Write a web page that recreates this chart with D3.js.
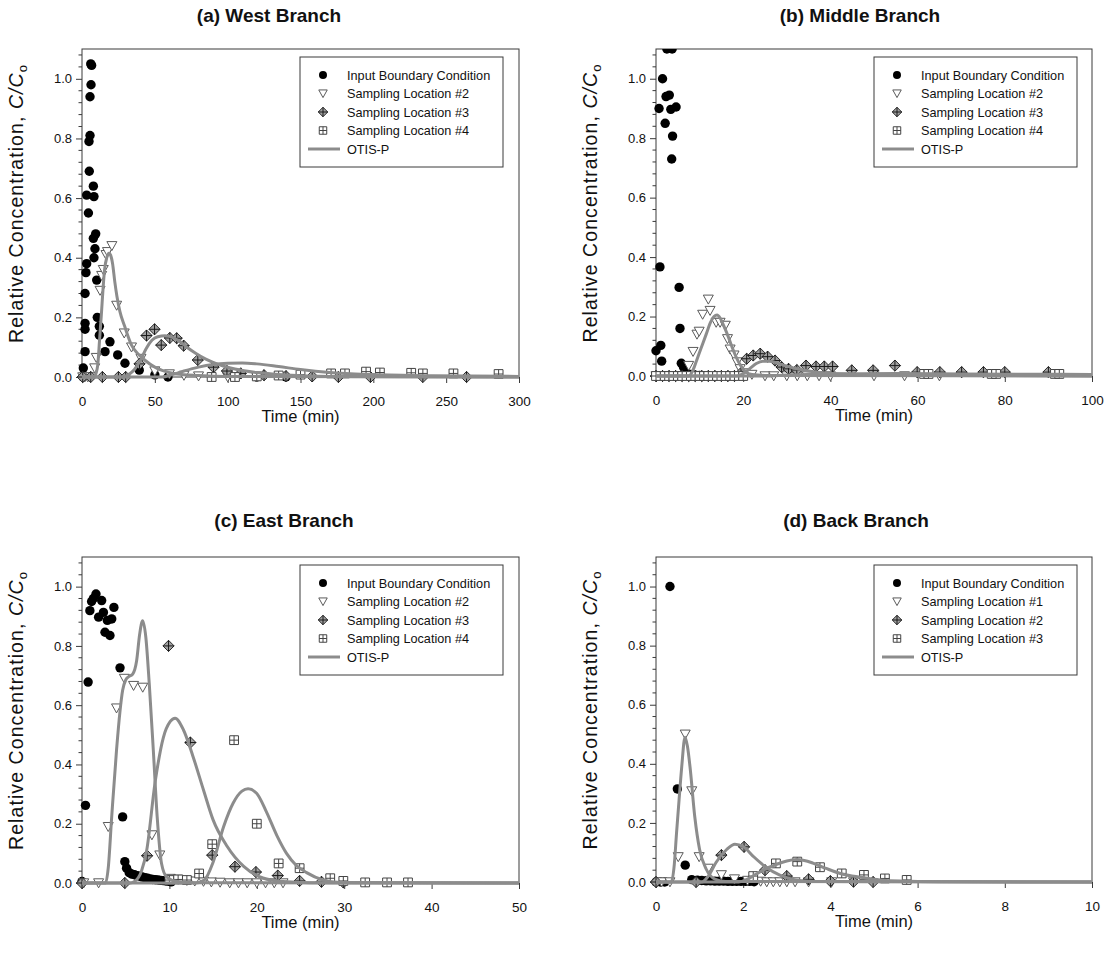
<!DOCTYPE html>
<html><head><meta charset="utf-8">
<script src="https://cdn.jsdelivr.net/npm/d3@7"></script>
<style>
body{margin:0;background:#fff}
svg{display:block}
text{font-family:Arial,"Liberation Sans",sans-serif;fill:#111}
</style>
</head><body>
<svg id="chart" width="1113" height="959"></svg>
<script>
// ---------------- DATA ----------------
const panelTitles = ["(a) West Branch", "(b) Middle Branch", "(c) East Branch", "(d) Back Branch"];
const xDomains = [[0, 300], [0, 100], [0, 50], [0, 10]];
const xTicksA = [0, 50, 100, 150, 200, 250, 300];
const xTicksB = [0, 20, 40, 60, 80, 100];
const xTicksC = [0, 10, 20, 30, 40, 50];
const xTicksD = [0, 2, 4, 6, 8, 10];
const yTicks = [0, 0.2, 0.4, 0.6, 0.8, 1.0];
const legendLabelsABC = ["Input Boundary Condition", "Sampling Location #2", "Sampling Location #3", "Sampling Location #4", "OTIS-P"];
const legendLabelsD = ["Input Boundary Condition", "Sampling Location #1", "Sampling Location #2", "Sampling Location #3", "OTIS-P"];

// (a) West Branch
const westInput = [[0.7,0],[0.9,0.03],[2.1,0.085],[2.1,0.16],[2.1,0.18],[2.1,0.28],[2.7,0.35],[3.2,0.38],[3.2,0.61],[4.4,0.55],[4.8,0.79],[5.0,0.69],[5.5,0.81],[5.5,0.94],[6.0,1.05],[6.2,0.98],[6.6,1.045],[7.8,0.64],[7.8,0.465],[8.2,0.605],[8.2,0.40],[8.9,0.43],[9.4,0.48],[10.1,0.325],[10.5,0.20],[11.9,0.17],[11.9,0.14],[15.8,0.085],[19.2,0.118],[24.5,0.074],[29.5,0.046],[39.3,0.023],[50,0.007],[59,0.0],[120,0.0],[140,0.0]];
const westLoc2 = [[0.5,0],[2,0],[4,0],[6,0],[8.7,0.03],[9.8,0.065],[12.4,0.29],[13.5,0.34],[14.6,0.36],[16.5,0.41],[17.5,0.42],[20.5,0.44],[23.8,0.24],[29,0.147],[34,0.1],[40.5,0.062],[50,0.02],[60,0.01],[70,0.005],[80,0.003],[100,0],[120,0]];
const westLoc3 = [[0.5,0],[6,0],[14,0],[25,0],[30,0],[39.5,0.044],[44.3,0.139],[49.8,0.16],[54.4,0.107],[60.3,0.131],[65,0.13],[69.8,0.105],[79.5,0.057],[90.3,0.033],[99.5,0.02],[109,0.012],[125,0.006],[140,0.003],[158,0.002],[176,0],[198,0],[234,0],[264,0]];
const westLoc4 = [[89,0],[105,0],[120,0.002],[135,0.005],[150,0.008],[171,0.012],[180.5,0.012],[195,0.018],[204.5,0.015],[226,0.014],[234,0.012],[255,0.012],[286,0.01]];
const westModel2 = [[0,0],[8,0],[9.5,0.01],[11,0.05],[12,0.12],[13.3,0.21],[14.5,0.30],[15.5,0.36],[17,0.40],[18.5,0.415],[19.5,0.41],[21,0.38],[22.5,0.32],[24,0.27],[26,0.22],[29.3,0.17],[34,0.107],[38,0.08],[43,0.057],[50,0.033],[55,0.022],[65,0.01],[80,0.005],[100,0.002],[300,0]];
const westModel3 = [[0,0],[28,0],[32,0.008],[36,0.025],[40,0.055],[44,0.095],[48,0.123],[52,0.135],[57,0.138],[62,0.133],[67,0.12],[72,0.1],[78,0.08],[85,0.06],[95,0.04],[105,0.027],[120,0.015],[140,0.007],[170,0.002],[300,0]];
const westModel4 = [[0,0],[55,0],[62,0.008],[70,0.02],[80,0.033],[90,0.042],[100,0.046],[110,0.047],[120,0.044],[135,0.035],[150,0.025],[170,0.015],[200,0.008],[240,0.004],[300,0.002]];

// (b) Middle Branch
const middleInput = [[0,0.085],[0.7,0.9],[0.9,0.367],[1.1,0.103],[1.3,0.05],[1.5,1.0],[2.1,0.85],[2.3,0.94],[2.5,1.1],[3.05,0.945],[3.4,0.897],[3.6,0.73],[3.8,0.807],[3.7,1.1],[4.6,0.905],[5.3,0.298],[5.5,0.16],[5.8,0.043],[6.3,0.03],[7,0.01],[8,0.005],[9,0.003],[10,0.002],[11,0],[12,0]];
const middleLoc2 = [[0,0],[1,0],[2,0],[3,0],[4,0],[5,0],[6,0],[7.5,0.035],[8.5,0.082],[9.4,0.14],[9.9,0.15],[10.7,0.207],[12,0.258],[12.4,0.22],[13.8,0.18],[14.7,0.18],[15.9,0.17],[16.4,0.125],[17,0.09],[17.9,0.07],[18.6,0.047],[19.3,0.024],[20.5,0.01],[22,0.005],[25,0],[27,0],[30,0],[32.4,0],[34.7,0],[37.4,0],[40,0],[50,0],[57,0],[65,0]];
const middleLoc3 = [[0,0],[1.5,0],[3,0],[4.5,0],[6,0],[7.5,0],[9,0],[10.5,0],[12,0],[13.5,0],[15,0],[16.5,0],[18,0],[19.5,0.01],[20.8,0.058],[22.3,0.069],[23.9,0.075],[25.6,0.065],[27.3,0.052],[28.8,0.03],[30.4,0.024],[32.3,0.02],[34.4,0.035],[36.7,0.032],[38.6,0.032],[40.5,0.032],[44.9,0.019],[49.8,0.019],[54.8,0.035],[59.9,0.013],[65.1,0.013],[70.1,0.013],[75.1,0.013],[80,0.013],[90,0.013]];
const middleLoc4 = [[0,0],[2,0],[4,0],[6,0],[8,0],[10,0],[12,0],[14,0],[16,0],[18,0],[20,0],[61.5,0.007],[62.5,0.007],[77,0.007],[78,0.007],[91.5,0.007],[92.5,0.007]];
const middleModel2 = [[0,0],[7.5,0],[8.5,0.02],[9.5,0.06],[10.5,0.1],[11.5,0.14],[12.5,0.18],[13.3,0.2],[14,0.205],[14.7,0.195],[15.5,0.17],[16.5,0.135],[17.5,0.095],[18.5,0.06],[19.5,0.033],[20.5,0.015],[22,0.005],[25,0.002],[100,0]];
const middleModel3 = [[0,0],[18.5,0],[20,0.008],[21.5,0.025],[23,0.042],[24.5,0.05],[26,0.05],[28,0.043],[30,0.033],[32,0.025],[35,0.017],[40,0.009],[50,0.004],[60,0.002],[100,0]];
const middleModel4 = [[0,0],[25,0],[30,0.003],[40,0.007],[55,0.008],[70,0.007],[85,0.006],[100,0.005]];

// (c) East Branch
const eastInput = [[0,0.005],[0.4,0.262],[0.7,0.678],[0.9,0.919],[1.1,0.95],[1.3,0.96],[1.6,0.975],[1.9,0.897],[2.25,0.953],[2.45,0.913],[2.63,0.846],[2.9,0.886],[3.2,0.835],[3.4,0.891],[3.65,0.93],[4.35,0.726],[4.65,0.223],[4.9,0.072],[5.1,0.05],[5.4,0.035],[5.7,0.03],[6.0,0.028],[6.3,0.025],[6.6,0.023],[6.9,0.02],[7.2,0.018],[7.5,0.016],[7.8,0.014],[8.1,0.012],[8.4,0.011],[8.7,0.01],[9.0,0.009],[9.3,0.008],[9.6,0.007],[9.9,0.006],[10.2,0.004]];
const eastLoc2 = [[0.2,0],[1.9,0],[3.0,0.19],[3.95,0.59],[4.85,0.69],[5.9,0.666],[6.95,0.66],[8.0,0.162],[8.9,0.094],[10.1,0.015],[11,0.012],[12,0.008],[12.9,0.006],[13.9,0.005],[14.8,0.003],[15.8,0.002],[16.9,0],[17.9,0],[18.9,0],[20,0],[21,0],[22,0],[23,0]];
const eastLoc3 = [[0,0],[4.9,0],[7.45,0.092],[9.9,0.80],[12.4,0.474],[14.9,0.094],[17.5,0.055],[19.9,0.037],[22.4,0.025],[24.9,0.007],[27.4,0.004],[29.9,0.002]];
const eastLoc4 = [[10,0.01],[11,0.012],[12,0.01],[13.4,0.032],[14.9,0.131],[17.4,0.482],[20,0.2],[22.5,0.066],[24.9,0.05],[28.4,0.016],[29.9,0.007],[32.4,0.002],[34.9,0.002],[37.3,0.002]];
const eastModel2 = [[0,0],[2.7,0],[3.0,0.05],[3.4,0.224],[3.95,0.448],[4.35,0.58],[4.65,0.65],[5.0,0.685],[5.4,0.697],[5.8,0.705],[6.25,0.75],[6.6,0.84],[6.94,0.885],[7.3,0.83],[7.7,0.67],[8.16,0.448],[8.6,0.224],[9.1,0.066],[9.7,0.02],[10.9,0.005],[13,0.001],[50,0]];
const eastModel3 = [[0,0],[5.5,0],[6.0,0.005],[6.8,0.04],[7.4,0.11],[8.35,0.337],[9.3,0.49],[10.1,0.545],[10.65,0.556],[11.6,0.517],[12.7,0.427],[13.9,0.314],[15,0.213],[16.6,0.124],[18.5,0.056],[20.7,0.017],[23,0.005],[26,0.001],[50,0]];
const eastModel4 = [[0,0],[13,0],[14,0.01],[15,0.07],[16.2,0.19],[17.3,0.27],[18.3,0.31],[19,0.318],[20,0.302],[21.1,0.24],[22.3,0.16],[23.4,0.1],[24.5,0.06],[25.7,0.035],[27.6,0.01],[29.5,0.002],[50,0]];

// (d) Back Branch
const backInput = [[0,0],[0.1,0],[0.2,0],[0.32,1.0],[0.49,0.315],[0.67,0.057],[0.82,0.008],[0.95,0.006],[1.05,0.005],[1.15,0.004],[1.25,0.004],[1.35,0.003],[1.45,0.003],[1.55,0.003],[1.65,0.002],[1.75,0.002],[1.85,0.002],[1.95,0.002],[2.05,0.002],[2.15,0.002],[2.25,0.001]];
const backLoc1 = [[0.13,0],[0.32,0],[0.51,0.085],[0.67,0.5],[0.82,0.308],[0.99,0.085],[1.2,0.046],[1.5,0.024],[1.8,0.01],[2.1,0.005],[2.4,0.002],[2.54,0],[2.69,0],[2.84,0],[3.0,0],[3.19,0],[3.5,0],[4.03,0],[4.53,0]];
const backLoc2 = [[0,0],[0.92,0],[1.5,0.091],[2.02,0.119],[2.5,0.04],[3.0,0.02],[3.5,0.009],[4.0,0.003],[4.53,0.001],[4.98,0]];
const backLoc3 = [[2.23,0.02],[2.75,0.063],[3.24,0.069],[3.76,0.05],[4.26,0.029],[4.77,0.024],[5.25,0.012],[5.75,0.007]];
const backModel1 = [[0,0],[0.35,0],[0.42,0.06],[0.47,0.164],[0.53,0.28],[0.59,0.39],[0.665,0.49],[0.72,0.46],[0.78,0.39],[0.89,0.22],[1.0,0.11],[1.15,0.044],[1.35,0.01],[1.6,0.002],[10,0]];
const backModel2 = [[0,0],[1.05,0],[1.2,0.02],[1.38,0.067],[1.62,0.11],[1.81,0.128],[2.0,0.12],[2.23,0.087],[2.54,0.048],[2.84,0.023],[3.2,0.007],[3.6,0.002],[10,0]];
const backModel3 = [[0,0],[1.9,0],[2.1,0.01],[2.3,0.027],[2.46,0.04],[2.77,0.06],[3.0,0.071],[3.22,0.076],[3.4,0.073],[3.6,0.064],[3.9,0.046],[4.29,0.026],[4.7,0.016],[5.14,0.007],[5.6,0.003],[6.5,0.001],[10,0]];

// ---------------- LAYOUT / STYLE ----------------
const layout = [
  {left:82,  right:519,  top:49,  bottom:377, titleX:269, titleY:22},
  {left:656, right:1092, top:49,  bottom:376, titleX:860, titleY:22},
  {left:82,  right:519,  top:557, bottom:883, titleX:284, titleY:527},
  {left:656, right:1092, top:557, bottom:882, titleX:856, titleY:527}
];
const panels = [
  {title:panelTitles[0], xd:xDomains[0], xt:xTicksA, leg:legendLabelsABC, input:westInput, s1:westLoc2, s2:westLoc3, s3:westLoc4, models:[westModel2,westModel3,westModel4]},
  {title:panelTitles[1], xd:xDomains[1], xt:xTicksB, leg:legendLabelsABC, input:middleInput, s1:middleLoc2, s2:middleLoc3, s3:middleLoc4, models:[middleModel2,middleModel3,middleModel4]},
  {title:panelTitles[2], xd:xDomains[2], xt:xTicksC, leg:legendLabelsABC, input:eastInput, s1:eastLoc2, s2:eastLoc3, s3:eastLoc4, models:[eastModel2,eastModel3,eastModel4]},
  {title:panelTitles[3], xd:xDomains[3], xt:xTicksD, leg:legendLabelsD, input:backInput, s1:backLoc1, s2:backLoc2, s3:backLoc3, models:[backModel1,backModel2,backModel3]}
];

const LINE_COLOR = "#8c8c8c";
const FRAME_COLOR = "#3a3a3a";

function sym(kind, s) {
  s = s || 1;
  if (kind === "tri") {
    return `M${-5*s},${-4.2*s}L${5*s},${-4.2*s}L0,${4.8*s}Z`;
  }
  if (kind === "dia") {
    const h = 5.6*s;
    return `M0,${-h}L${h},0L0,${h}L${-h},0Z`;
  }
  if (kind === "sq") {
    const h = 4.4*s;
    return `M${-h},${-h}H${h}V${h}H${-h}Z`;
  }
}
function cross(kind, s) {
  s = s || 1;
  const h = (kind === "dia" ? 5.6 : 4.4)*s;
  return `M0,${-h}V${h}M${-h},0H${h}`;
}

function drawMarker(g, kind, cx, cy, s) {
  s = s || 1;
  const m = g.append("g").attr("transform", `translate(${cx},${cy})`);
  if (kind === "circ") {
    m.append("circle").attr("r", 4.7*s).attr("fill", "#000");
  } else if (kind === "tri") {
    m.append("path").attr("d", sym("tri", s)).attr("fill", "#fff").attr("stroke", "#5a5a5a").attr("stroke-width", 1);
  } else if (kind === "dia") {
    m.append("path").attr("d", sym("dia", s)).attr("fill", "#a0a0a0").attr("stroke", "#2a2a2a").attr("stroke-width", 1);
    m.append("path").attr("d", cross("dia", s)).attr("stroke", "#1a1a1a").attr("stroke-width", 1).attr("fill", "none");
  } else if (kind === "sq") {
    m.append("path").attr("d", sym("sq", s)).attr("fill", "#fff").attr("stroke", "#444").attr("stroke-width", 1);
    m.append("path").attr("d", cross("sq", s)).attr("stroke", "#444").attr("stroke-width", 1).attr("fill", "none");
  }
}

const svg = d3.select("#chart");
svg.append("rect").attr("width", 1113).attr("height", 959).attr("fill", "#fff");

panels.forEach((p, i) => {
  const L = layout[i];
  const g = svg.append("g");
  const x = d3.scaleLinear().domain(p.xd).range([L.left, L.right]);
  const y = d3.scaleLinear().domain([0, 1.1]).range([L.bottom, L.top]);

  const clipId = "clip" + i;
  svg.append("clipPath").attr("id", clipId).append("rect")
    .attr("x", L.left - 10).attr("y", L.top)
    .attr("width", L.right - L.left + 20).attr("height", L.bottom - L.top + 12);

  // frame
  g.append("rect").attr("x", L.left).attr("y", L.top)
    .attr("width", L.right - L.left).attr("height", L.bottom - L.top)
    .attr("fill", "none").attr("stroke", FRAME_COLOR).attr("stroke-width", 1);

  // y axis
  const yAxis = d3.axisLeft(y).tickValues(yTicks).tickFormat(d3.format(".1f")).tickSize(6).tickPadding(4);
  const ya = g.append("g").attr("transform", `translate(${L.left},0)`).call(yAxis);
  ya.select(".domain").remove();
  ya.selectAll("line").attr("stroke", FRAME_COLOR);
  ya.selectAll("text").attr("font-size", 13).attr("fill", "#111");
  const yMinor = d3.range(0, 1.1001, 0.04).filter(v => Math.abs(Math.round(v*5) - v*5) > 1e-6);
  g.append("g").selectAll("line").data(yMinor).join("line")
    .attr("x1", L.left - 3.5).attr("x2", L.left).attr("y1", d => y(d)).attr("y2", d => y(d))
    .attr("stroke", FRAME_COLOR);

  // x axis
  const xAxis = d3.axisBottom(x).tickValues(p.xt).tickFormat(d3.format("d")).tickSize(6).tickPadding(13);
  const xa = g.append("g").attr("transform", `translate(0,${L.bottom})`).call(xAxis);
  xa.select(".domain").remove();
  xa.selectAll("line").attr("stroke", FRAME_COLOR);
  xa.selectAll("text").attr("font-size", 13.5).attr("fill", "#111");

  // titles
  g.append("text").attr("x", L.titleX).attr("y", L.titleY).attr("text-anchor", "middle")
    .attr("font-size", 19).attr("font-weight", "bold").text(p.title);
  g.append("text").attr("x", (L.left + L.right)/2).attr("y", L.bottom + 45).attr("text-anchor", "middle")
    .attr("font-size", 16.5).text("Time (min)");
  const yl = g.append("text").attr("transform", `translate(${L.left - 59},${(L.top + L.bottom)/2 - 9}) rotate(-90)`)
    .attr("text-anchor", "middle").attr("font-size", 19.5)
    .attr("textLength", 278).attr("lengthAdjust", "spacing");
  yl.append("tspan").text("Relative Concentration, ");
  yl.append("tspan").attr("font-style", "italic").text("C/C");
  yl.append("tspan").attr("font-size", 13).attr("dy", 4).text("o");

  // data
  const dg = g.append("g").attr("clip-path", `url(#${clipId})`);
  p.input.forEach(d => drawMarker(dg, "circ", x(d[0]), y(d[1])));
  p.s1.forEach(d => drawMarker(dg, "tri", x(d[0]), y(d[1])));
  p.s2.forEach(d => drawMarker(dg, "dia", x(d[0]), y(d[1])));
  p.s3.forEach(d => drawMarker(dg, "sq", x(d[0]), y(d[1])));

  const line = d3.line().x(d => x(d[0])).y(d => y(d[1])).curve(d3.curveMonotoneX);
  p.models.forEach(m => {
    dg.append("path").attr("d", line(m)).attr("fill", "none")
      .attr("stroke", LINE_COLOR).attr("stroke-width", 3).attr("stroke-linejoin", "round");
  });

  // legend
  const lx = L.left + 218, ly = L.top + 8;
  const lg = g.append("g");
  lg.append("rect").attr("x", lx).attr("y", ly).attr("width", 203).attr("height", 110)
    .attr("fill", "#fff").attr("stroke", FRAME_COLOR).attr("stroke-width", 1);
  const kinds = ["circ", "tri", "dia", "sq", "line"];
  p.leg.forEach((lab, k) => {
    const ry = ly + 18 + k*18.5;
    if (kinds[k] === "line") {
      lg.append("line").attr("x1", lx + 8).attr("x2", lx + 40).attr("y1", ry).attr("y2", ry)
        .attr("stroke", LINE_COLOR).attr("stroke-width", 3);
    } else {
      drawMarker(lg, kinds[k], lx + 23, ry, 0.85);
    }
    lg.append("text").attr("x", lx + 47).attr("y", ry + 4.5).attr("font-size", 12.7).text(lab);
  });
});
</script>
</body></html>
